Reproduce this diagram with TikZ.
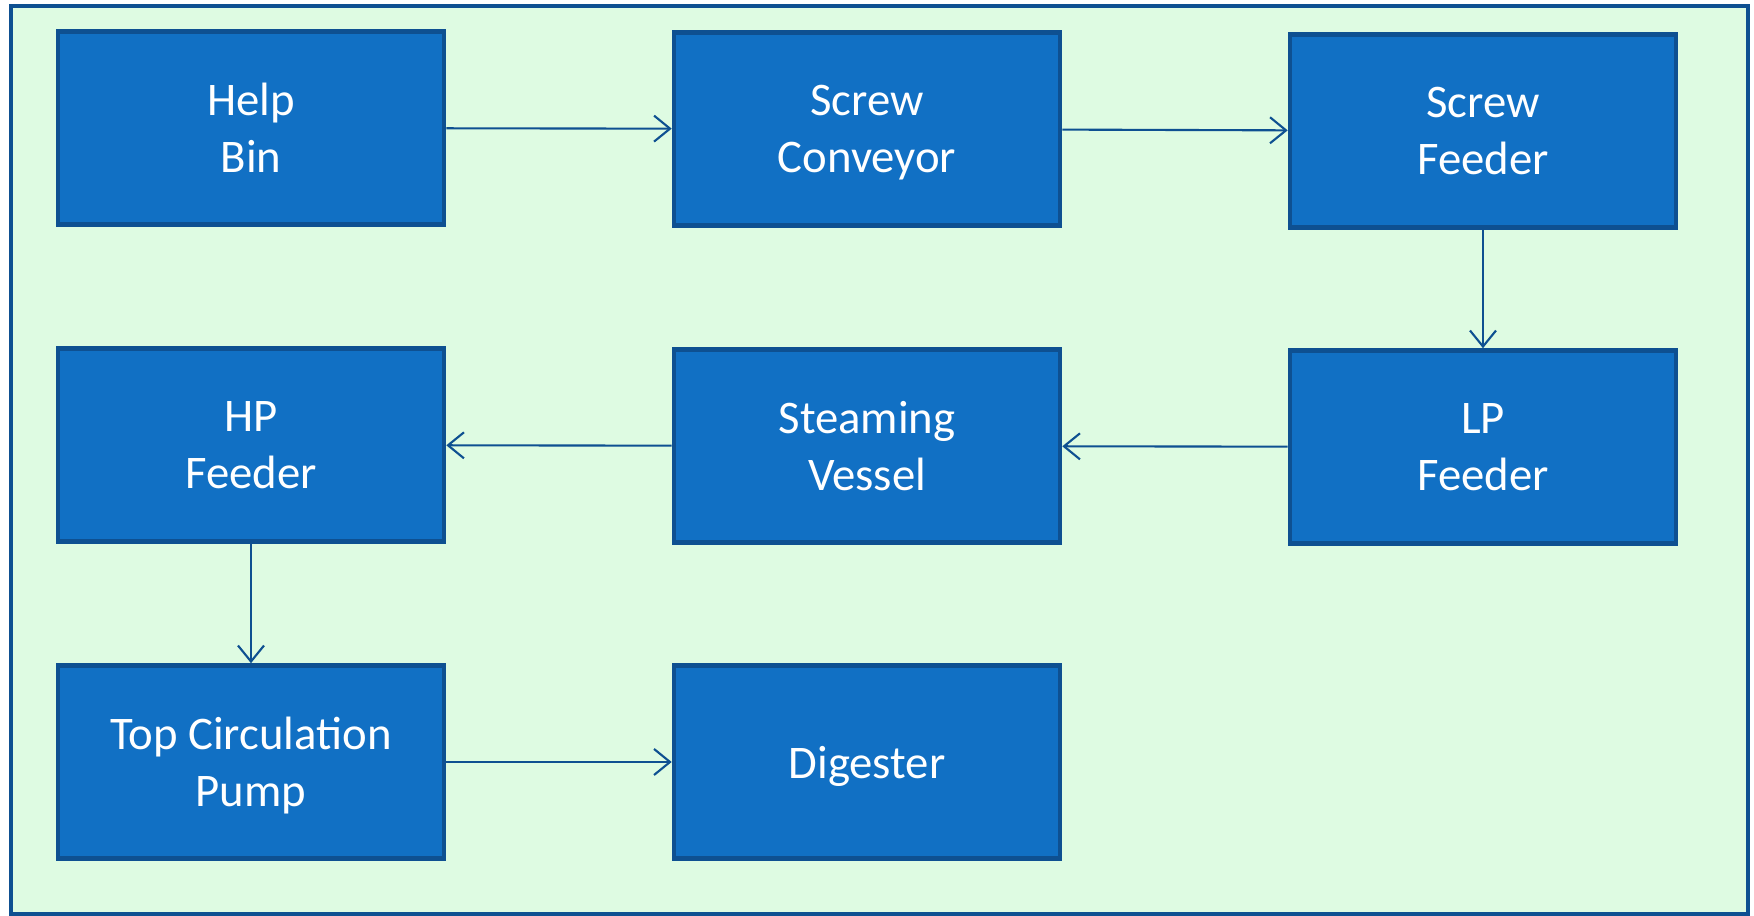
\documentclass[tikz,border=0pt]{standalone}
\usepackage{fontspec}
\setmainfont{Carlito}
\usepackage{tikz}
\usetikzlibrary{arrows.meta}

\definecolor{paleGreen}{RGB}{222,251,226}
\definecolor{boxBlue}{RGB}{17,112,196}
\definecolor{edgeBlue}{RGB}{14,80,145}

\begin{document}
\begin{tikzpicture}[
		blockbox/.style={draw=edgeBlue, line width=1.3pt, fill=boxBlue, text=white,
			minimum width=3.86cm, minimum height=1.93cm, align=center, text depth=0pt,
			font=\fontsize{13.3}{16.2}\selectfont},
		flowarrow/.style={draw=edgeBlue, line width=0.6pt,
			-{Straight Barb[length=1.6mm,width=2.6mm]}}
	]
		\useasboundingbox (0,0) rectangle (17.54,9.16);
		\draw [edgeBlue, line width=1.1pt, fill=paleGreen] (0.11,0.02) rectangle (17.48,9.10);
		
		% first row
		\node[blockbox] (helpbin) at (2.51,7.88) {Help\\Bin};
		\node[blockbox] (conveyor) at (8.67,7.87) {Screw\\Conveyor};
		\node[blockbox] (screwfeed) at (14.83,7.85) {Screw\\Feeder};
		
		% second row
		\node[blockbox] (hpfeed) at (2.51,4.71) {HP\\Feeder};
		\node[blockbox] (steaming) at (8.67,4.70) {Steaming\\Vessel};
		\node[blockbox] (lpfeed) at (14.83,4.69) {LP\\Feeder};
		
		% third row
		\node[blockbox] (pump) at (2.51,1.54) {Top Circulation\\Pump};
		\node[blockbox] (digester) at (8.67,1.54) {Digester};
		
		\draw [flowarrow] (helpbin) -- (conveyor);
		\draw [flowarrow] (conveyor) -- (screwfeed);
		\draw [flowarrow] (screwfeed) -- (lpfeed);
		\draw [flowarrow] (lpfeed) -- (steaming);
		\draw [flowarrow] (steaming) -- (hpfeed);
		\draw [flowarrow] (hpfeed) -- (pump);
		\draw [flowarrow] (pump) -- (digester);
\end{tikzpicture}
\end{document}
